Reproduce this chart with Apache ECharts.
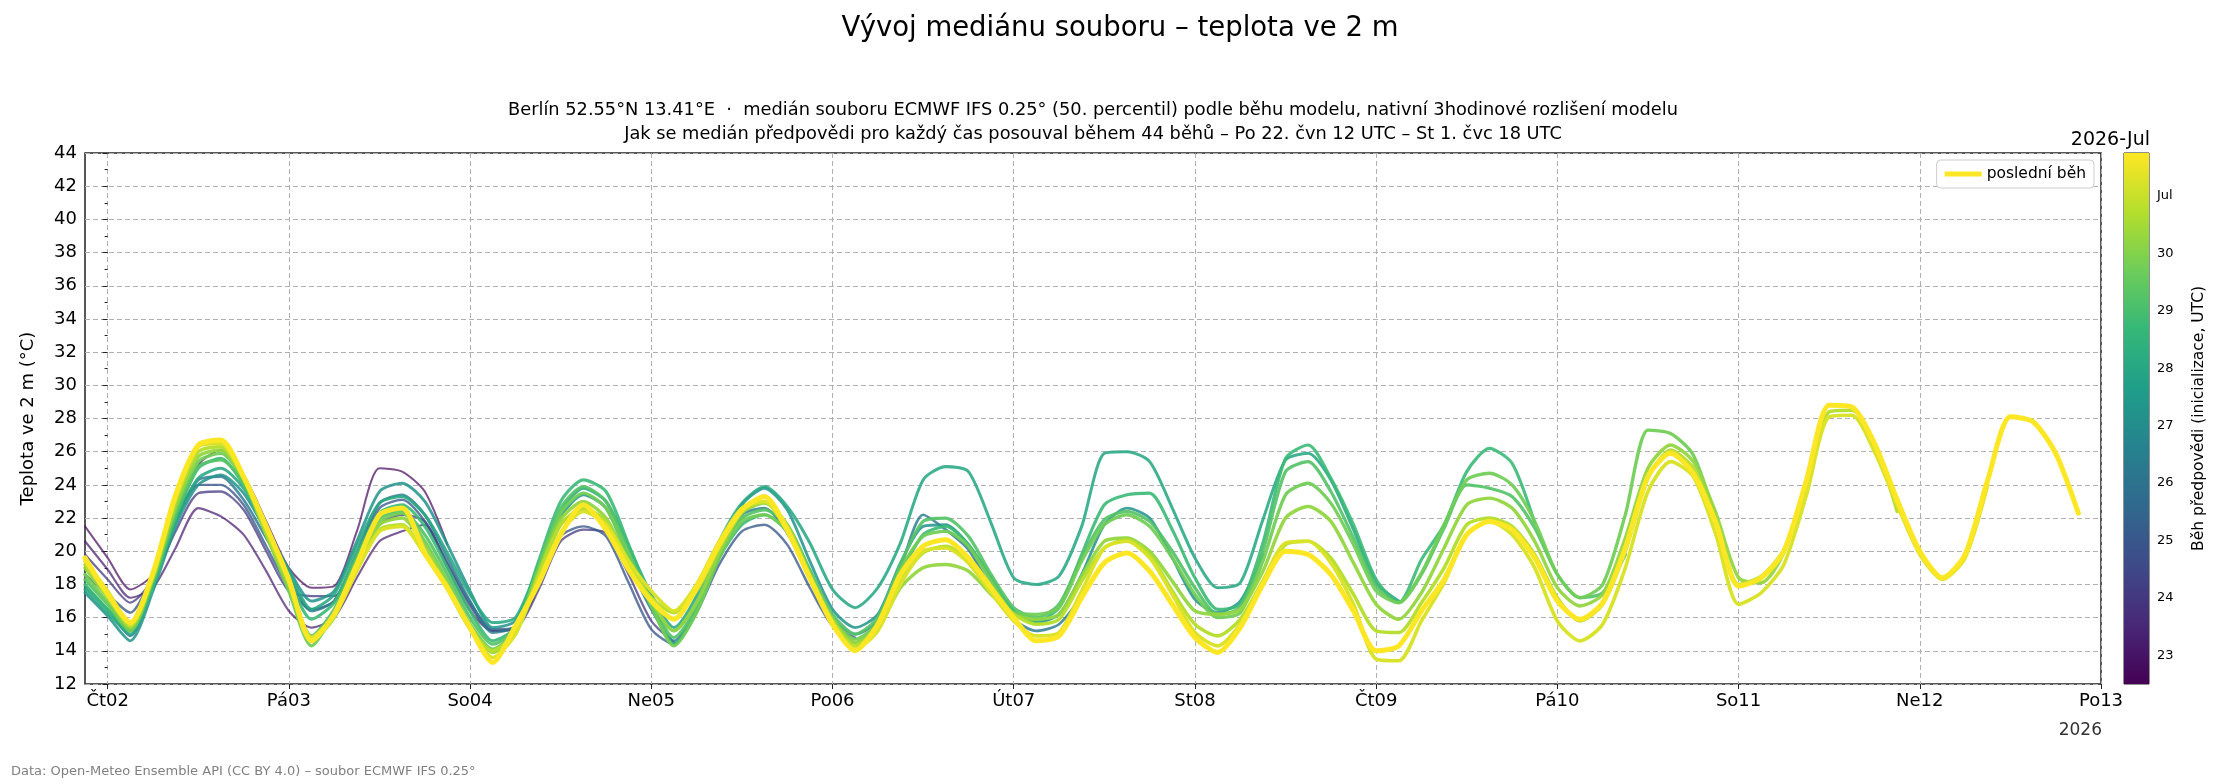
<!DOCTYPE html>
<html lang="cs">
<head>
<meta charset="UTF-8" />
<title>Vývoj mediánu souboru – teplota ve 2 m</title>
<script src="https://cdn.jsdelivr.net/npm/echarts@6/dist/echarts.min.js"></script>
<style>
  html, body { margin: 0; padding: 0; background: #fff; }
  #chart { width: 2240px; height: 784px; }
</style>
</head>
<body>
<div id="chart"></div>
<script>
// x = hours after Čt 2. 7. 00 UTC, every run starts at -3 h (St 1. 7. 21 UTC), 3-hourly
var startHour = -3;
var stepHours = 3;
var dayTicks = [0, 24, 48, 72, 96, 120, 144, 168, 192, 216, 240, 264];
var dayLabels = ["Čt02", "Pá03", "So04", "Ne05", "Po06", "Út07", "St08", "Čt09", "Pá10", "So11", "Ne12", "Po13"];

// colorbar: run init time as day of June (31 = 1. 7.)
var cbMin = 22.5;
var cbMax = 31.75;
var cbTicks = [23, 24, 25, 26, 27, 28, 29, 30, 31];
var cbLabels = ["23", "24", "25", "26", "27", "28", "29", "30", "Jul"];

// median T2m (°C) per run
var r0622_18 = [21.5, 19.6, 17.7, 18.6, 22.0, 25.2, 26.1, 24.6, 21.8, 19.0, 17.8, 17.9, 21.2, 25.0, 24.8, 23.6, 20.4];
var r0623_06 = [20.6, 18.9, 17.2, 17.8, 20.2, 22.6, 22.1, 21.0, 18.8, 16.4, 15.4, 16.0, 18.4, 20.6, 21.2, 21.6, 19.0, 16.4, 15.2, 15.4, 17.8];
var r0624_00 = [19.8, 18.3, 16.9, 18.3, 21.2, 23.5, 23.6, 22.5, 20.0, 17.6, 17.3, 17.3, 19.3, 21.6, 22.2, 21.8, 19.2, 16.7, 15.2, 15.3, 17.6, 20.6, 21.3, 21.1, 18.6, 15.8, 14.5];
var r0625_00 = [18.6, 17.4, 16.3, 18.6, 21.9, 24.0, 24.0, 22.8, 20.3, 17.8, 16.5, 17.0, 19.8, 22.6, 23.1, 21.8, 19.3, 16.9, 15.3, 15.4, 17.9, 20.9, 21.5, 20.9, 18.1, 15.3, 14.4, 16.3, 19.2, 21.2, 21.6, 20.4, 17.8, 15.5, 14.8];
var r0626_06 = [17.9, 16.5, 14.9, 18.0, 21.8, 24.3, 24.5, 23.1, 20.8, 18.5, 16.4, 17.0, 19.9, 22.9, 23.4, 22.2,
  19.6, 17.0, 15.1, 15.5, 18.5, 21.6, 22.5, 21.8, 19.2, 16.5, 14.6, 16.5, 19.6, 22.2, 22.6, 21.1,
  18.4, 15.9, 15.0, 15.8, 19.0, 22.2, 21.3, 20.1, 17.8, 15.9, 15.2, 15.6, 17.3];
var r0627_06 = [17.5, 16.1, 14.6, 17.6, 21.5, 24.0, 24.6, 23.5, 21.2, 18.9, 17.0, 17.6, 20.6, 23.6, 24.1, 23.0,
  20.4, 17.6, 15.4, 15.8, 18.8, 22.1, 23.4, 22.6, 19.6, 16.8, 15.2, 16.9, 20.1, 22.8, 23.8, 22.5,
  19.4, 16.5, 15.4, 16.2, 19.3, 21.5, 21.6, 20.4, 18.3, 16.4, 15.7, 16.2, 18.6, 21.6, 22.6, 22.0,
  19.6, 17.1, 16.3, 17.0, 19.8];
var r0628_00 = [17.7, 16.3, 15.0, 18.0, 21.8, 24.4, 25.0, 23.8, 21.4, 18.8, 16.5, 17.4, 20.3, 22.9, 23.3, 22.2,
  19.9, 17.4, 15.7, 16.0, 19.1, 22.4, 23.8, 23.0, 20.3, 17.4, 15.4, 17.3, 20.6, 22.9, 23.9, 22.7,
  20.5, 17.7, 16.6, 17.8, 20.5, 24.3, 25.1, 24.8, 21.7, 18.4, 18.0, 18.5, 21.5, 25.9, 26.0, 25.4,
  22.6, 19.6, 17.8, 18.1, 21.9, 25.5, 25.9, 24.3, 21.3, 18.1, 17.0];
var r0628_18 = [18.0, 16.5, 15.2, 17.9, 22.0, 25.0, 25.6, 24.0, 21.3, 18.3, 15.9, 16.9, 19.8, 22.3, 22.8, 21.5,
  19.0, 16.4, 14.6, 15.4, 19.3, 23.0, 24.3, 23.6, 20.4, 17.0, 14.4, 16.4, 19.6, 21.6, 22.2, 21.2,
  18.4, 15.6, 14.5, 15.6, 18.6, 21.0, 21.5, 20.4, 18.4, 16.4, 15.8, 16.6, 19.8, 22.8, 23.4, 23.5,
  21.3, 18.4, 16.5, 16.8, 20.5, 25.6, 26.4, 24.4, 21.6, 18.3, 16.9, 19.5, 21.6, 24.8, 26.2, 25.3,
  21.7];
var r0629_06 = [18.3, 16.8, 15.3, 18.2, 22.2, 25.1, 25.5, 24.1, 21.1, 17.9, 14.9, 16.5, 19.6, 22.0, 22.4, 21.0,
  18.6, 16.0, 14.4, 15.3, 19.0, 22.6, 23.9, 23.0, 20.0, 16.9, 14.8, 16.6, 19.9, 22.0, 22.5, 21.6,
  18.9, 16.2, 15.0, 16.0, 19.2, 21.8, 22.0, 20.9, 18.6, 16.6, 16.0, 16.8, 19.6, 21.9, 22.4, 21.8,
  20.0, 17.8, 16.2, 16.6, 20.0, 24.8, 25.4, 23.6, 20.8, 17.9, 16.9, 18.6, 21.4, 24.0, 23.8, 23.3,
  21.4, 18.6, 17.2, 17.5, 19.8];
var r0629_18 = [18.6, 16.9, 15.2, 18.3, 22.5, 25.4, 25.9, 24.3, 21.0, 17.6, 14.3, 16.3, 19.4, 21.8, 22.3, 20.6,
  18.2, 15.6, 14.1, 15.2, 18.9, 22.3, 23.5, 22.6, 19.7, 16.7, 14.3, 16.3, 19.6, 21.8, 22.2, 21.2,
  18.6, 15.9, 14.7, 15.7, 18.9, 20.9, 21.2, 20.3, 18.2, 16.3, 16.2, 16.6, 19.4, 21.6, 22.2, 21.5,
  19.6, 17.4, 16.0, 16.3, 19.4, 23.4, 24.1, 22.9, 20.4, 17.6, 16.9, 18.7, 21.6, 24.3, 24.7, 24.0,
  21.8, 18.6, 17.2, 18.0, 22.2, 27.3, 27.1, 25.8, 21.9];
var r0630_06 = [19.0, 17.2, 15.4, 18.4, 22.7, 25.7, 26.1, 24.4, 21.0, 17.9, 14.6, 16.0, 19.1, 21.6, 22.0, 20.3,
  18.0, 15.5, 13.9, 15.0, 18.6, 21.9, 23.0, 22.0, 19.4, 17.0, 15.2, 16.9, 19.9, 22.3, 22.9, 21.6,
  18.6, 15.9, 14.5, 15.4, 17.8, 19.0, 19.2, 18.8, 17.4, 16.2, 15.9, 16.2, 18.5, 20.6, 20.8, 20.0,
  18.2, 16.4, 16.2, 16.5, 18.8, 22.0, 22.7, 21.8, 19.3, 16.8, 15.9, 17.5, 20.2, 22.8, 23.2, 22.6,
  20.6, 17.8, 16.7, 17.4, 20.8, 25.0, 26.4, 25.4, 22.3, 18.4, 18.1, 19.9, 24.1];
var r0630_18 = [19.2, 17.4, 15.5, 18.5, 23.0, 26.0, 26.3, 24.4, 21.2, 18.1, 14.8, 16.2, 19.0, 21.3, 21.6, 19.8,
  17.7, 15.3, 14.0, 15.1, 18.5, 21.6, 22.6, 21.8, 19.2, 17.2, 16.3, 17.6, 20.2, 22.4, 23.0, 21.5,
  18.5, 15.8, 14.3, 15.4, 18.2, 19.9, 20.3, 19.5, 17.6, 16.2, 15.6, 15.9, 18.2, 20.2, 20.7, 19.8,
  17.6, 15.6, 14.9, 15.9, 18.2, 20.4, 20.6, 19.6, 17.4, 15.2, 15.1, 16.9, 19.0, 21.6, 22.0, 21.5,
  19.8, 17.2, 15.8, 16.8, 20.0, 24.4, 26.1, 25.0, 21.9, 18.0, 18.5, 20.1, 24.1, 28.4, 28.5, 26.5,
  22.4];
var r0701_06 = [19.4, 17.6, 15.6, 18.6, 23.2, 26.3, 26.5, 24.5, 21.4, 18.3, 14.8, 16.1, 18.8, 21.2, 21.5, 19.8,
  17.8, 15.4, 13.6, 15.0, 18.2, 21.1, 22.4, 21.6, 19.4, 17.6, 16.4, 18.0, 20.6, 22.6, 23.0, 21.2,
  18.3, 15.6, 14.1, 15.2, 18.0, 20.0, 20.2, 19.3, 17.5, 15.8, 14.9, 15.1, 17.6, 20.2, 20.6, 19.6,
  17.4, 15.1, 14.3, 15.6, 18.2, 20.5, 20.6, 19.3, 16.8, 13.5, 13.4, 15.8, 18.1, 21.0, 21.8, 21.0,
  19.0, 15.8, 14.6, 15.6, 19.0, 23.6, 25.4, 24.5, 21.0, 16.8, 17.5, 19.2, 23.4, 28.1, 28.2, 26.0,
  22.8, 19.8, 18.3, 19.6, 24.0];
var r0701_18 = [19.6, 17.4, 15.7, 18.7, 23.4, 26.4, 26.7, 24.5, 21.5, 18.3, 14.6, 16.2, 19.2, 22.2, 22.6, 19.9,
  17.8, 15.4, 13.3, 15.5, 18.0, 21.0, 22.8, 21.3, 18.9, 17.0, 15.9, 17.8, 20.4, 22.5, 23.3, 21.3,
  18.4, 15.6, 14.0, 15.6, 18.6, 20.3, 20.7, 19.6, 17.8, 16.0, 14.6, 14.9, 17.2, 19.3, 19.9, 18.8,
  16.8, 14.8, 13.9, 15.4, 18.0, 20.0, 19.8, 18.6, 16.4, 14.0, 14.3, 16.4, 18.3, 21.0, 21.8, 21.3,
  19.6, 17.0, 15.9, 16.9, 20.2, 24.5, 25.9, 24.7, 21.7, 17.9, 18.4, 20.0, 24.3, 28.8, 28.7, 26.5,
  23.1, 20.0, 18.4, 19.8, 24.3, 28.1, 27.8, 25.9, 22.3];

var runs = [r0622_18, r0623_06, r0624_00, r0625_00, r0626_06, r0627_06, r0628_00,
  r0628_18, r0629_06, r0629_18, r0630_06, r0630_18, r0701_06, r0701_18];
var runInit = [22.75, 23.25, 24.0, 25.0, 26.25, 27.25, 28.0, 28.75, 29.25, 29.75, 30.25, 30.75, 31.25, 31.75];
var runNames = ["22. 6. 18 UTC", "23. 6. 06 UTC", "24. 6. 00 UTC", "25. 6. 00 UTC", "26. 6. 06 UTC",
  "27. 6. 06 UTC", "28. 6. 00 UTC", "28. 6. 18 UTC", "29. 6. 06 UTC", "29. 6. 18 UTC",
  "30. 6. 06 UTC", "30. 6. 18 UTC", "1. 7. 06 UTC", "poslední běh"];

var viridisStops = ["#440154", "#482878", "#3e4a89", "#31688e", "#26828e", "#1f9e89", "#35b779", "#6dcd59", "#b4de2c", "#fde725"];

function hexToRgb(h) {
  return [parseInt(h.slice(1, 3), 16), parseInt(h.slice(3, 5), 16), parseInt(h.slice(5, 7), 16)];
}
function viridis(f) {
  f = Math.max(0, Math.min(1, f));
  var p = f * (viridisStops.length - 1);
  var i = Math.min(Math.floor(p), viridisStops.length - 2);
  var t = p - i;
  var a = hexToRgb(viridisStops[i]);
  var b = hexToRgb(viridisStops[i + 1]);
  var c = a.map(function (v, k) { return Math.round(v + (b[k] - v) * t); });
  return "rgb(" + c.join(",") + ")";
}

var series = runs.map(function (vals, idx) {
  var f = (runInit[idx] - cbMin) / (cbMax - cbMin);
  var last = idx === runs.length - 1;
  return {
    name: runNames[idx],
    type: "line",
    xAxisIndex: 0,
    yAxisIndex: 0,
    symbol: "none",
    smooth: 0.25,
    clip: true,
    data: vals.map(function (v, i) { return [startHour + i * stepHours, v]; }),
    itemStyle: { color: viridis(f) },
    lineStyle: {
      color: viridis(f),
      width: last ? 5 : 2.0 + 1.7 * f,
      opacity: last ? 1 : 0.7 + 0.3 * f,
      join: "round",
      cap: "round"
    },
    emphasis: { disabled: true },
    z: 2
  };
});

// colorbar
var cbStops = viridisStops.map(function (c, i) {
  return { offset: i / (viridisStops.length - 1), color: c };
});
series.push({
  name: "colorbar",
  type: "custom",
  xAxisIndex: 1,
  yAxisIndex: 1,
  data: [[0, cbMin, 1, cbMax]],
  renderItem: function (params, api) {
    var p0 = api.coord([api.value(0), api.value(1)]);
    var p1 = api.coord([api.value(2), api.value(3)]);
    return {
      type: "rect",
      shape: { x: p0[0], y: p1[1], width: p1[0] - p0[0], height: p0[1] - p1[1] },
      style: { fill: new echarts.graphic.LinearGradient(0, 1, 0, 0, cbStops) }
    };
  },
  silent: true
});

var chart = echarts.init(document.getElementById("chart"));
var font = "DejaVu Sans";
var option = {
  animation: false,
  backgroundColor: "#ffffff",
  textStyle: { fontFamily: font, color: "#000" },
  legend: {
    data: ["poslední běh"],
    right: 146,
    top: 160,
    icon: "rect",
    itemWidth: 37,
    itemHeight: 5,
    padding: [6, 8],
    backgroundColor: "#fff",
    borderColor: "#cccccc",
    borderWidth: 1,
    borderRadius: 4,
    textStyle: { fontSize: 15.5, color: "#000", fontFamily: font }
  },
  grid: [
    { left: 85, right: 139, top: 153, bottom: 100, show: true, borderColor: "#222", borderWidth: 1.5, backgroundColor: "transparent" },
    { left: 2124, width: 25, top: 153, bottom: 100, show: true, borderColor: "#222", borderWidth: 1, backgroundColor: "transparent" }
  ],
  xAxis: [
    {
      type: "value",
      gridIndex: 0,
      min: -3,
      max: 264,
      axisLine: { show: false },
      axisTick: { show: true, customValues: dayTicks, length: 5, lineStyle: { color: "#222" } },
      axisLabel: {
        customValues: dayTicks,
        margin: 8,
        fontSize: 18,
        color: "#000",
        formatter: function (v) { return dayLabels[Math.round(v / 24)]; }
      },
      splitLine: { show: true, lineStyle: { color: "#b0b0b0", type: [5, 3], width: 1 } }
    },
    { type: "value", gridIndex: 1, min: 0, max: 1, show: false }
  ],
  yAxis: [
    {
      type: "value",
      gridIndex: 0,
      min: 12,
      max: 44,
      interval: 2,
      name: "Teplota ve 2 m (°C)",
      nameLocation: "middle",
      nameGap: 48,
      nameTextStyle: { fontSize: 18, color: "#000", fontFamily: font },
      axisLine: { show: false },
      axisTick: { show: true, length: 5, lineStyle: { color: "#222" } },
      minorTick: { show: true, splitNumber: 2, length: 3, lineStyle: { color: "#222" } },
      axisLabel: { fontSize: 18, color: "#000", margin: 8 },
      splitLine: { show: true, lineStyle: { color: "#b0b0b0", type: [5, 3], width: 1 } }
    },
    {
      type: "value",
      gridIndex: 1,
      position: "right",
      min: cbMin,
      max: cbMax,
      name: "Běh předpovědi (inicializace, UTC)",
      nameLocation: "middle",
      nameRotate: 90,
      nameGap: 42,
      nameTextStyle: { fontSize: 15.5, color: "#000", fontFamily: font },
      axisLine: { show: false },
      axisTick: { show: true, customValues: cbTicks, length: 5, inside: false, lineStyle: { color: "#222" } },
      axisLabel: {
        customValues: cbTicks,
        fontSize: 13,
        color: "#000",
        margin: 8,
        formatter: function (v) { return cbLabels[cbTicks.indexOf(Math.round(v))]; }
      },
      splitLine: { show: false }
    }
  ],
  graphic: [
    { type: "text", x: 1120, y: 29, style: { text: "Vývoj mediánu souboru – teplota ve 2 m", font: "27.5px 'DejaVu Sans'", fill: "#000", textAlign: "center", textVerticalAlign: "middle" } },
    { type: "text", x: 1093, y: 110, style: { text: "Berlín 52.55°N 13.41°E  ·  medián souboru ECMWF IFS 0.25° (50. percentil) podle běhu modelu, nativní 3hodinové rozlišení modelu", font: "17.8px 'DejaVu Sans'", fill: "#000", textAlign: "center", textVerticalAlign: "middle" } },
    { type: "text", x: 1093, y: 134, style: { text: "Jak se medián předpovědi pro každý čas posouval během 44 běhů – Po 22. čvn 12 UTC – St 1. čvc 18 UTC", font: "17.8px 'DejaVu Sans'", fill: "#000", textAlign: "center", textVerticalAlign: "middle" } },
    { type: "text", x: 2150, y: 140, style: { text: "2026-Jul", font: "19px 'DejaVu Sans'", fill: "#000", textAlign: "right", textVerticalAlign: "middle" } },
    { type: "text", x: 2102, y: 731, style: { text: "2026", font: "17px 'DejaVu Sans'", fill: "#333", textAlign: "right", textVerticalAlign: "middle" } },
    { type: "text", x: 11, y: 772, style: { text: "Data: Open-Meteo Ensemble API (CC BY 4.0) – soubor ECMWF IFS 0.25°", font: "13px 'DejaVu Sans'", fill: "#808080", textAlign: "left", textVerticalAlign: "middle" } }
  ],
  series: series
};
chart.setOption(option);
</script>
</body>
</html>
